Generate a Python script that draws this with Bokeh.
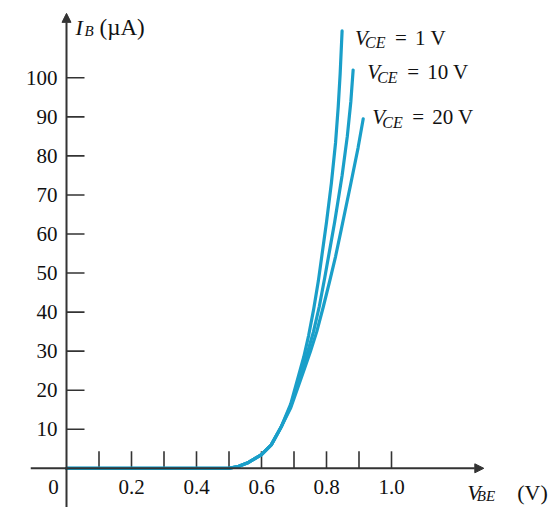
from bokeh.plotting import figure
from bokeh.models import Arrow, NormalHead, Range1d
from bokeh.core.properties import value
from bokeh.embed import file_html
from bokeh.resources import INLINE

# ---------------- data ----------------
vbe_vce1 = [0.0, 0.50, 0.53, 0.56, 0.60, 0.63, 0.66, 0.69, 0.72, 0.73, 0.745, 0.76, 0.775,
            0.80, 0.815, 0.828, 0.836, 0.842, 0.848]
ib_vce1 = [0.0, 0.0, 0.5, 1.5, 3.5, 6.0, 10.5, 16.5, 25.5, 28.5, 34.0, 40.5, 48.0,
           63.0, 73.0, 83.5, 92.5, 101.0, 112.0]

vbe_vce10 = [0.0, 0.50, 0.53, 0.56, 0.60, 0.63, 0.66, 0.69, 0.725, 0.742, 0.76, 0.778, 0.795,
             0.81, 0.825, 0.848, 0.864, 0.875, 0.882]
ib_vce10 = [0.0, 0.0, 0.5, 1.5, 3.5, 6.0, 10.5, 16.0, 25.0, 29.8, 35.0, 41.5, 49.0,
            56.0, 63.0, 75.0, 85.0, 94.0, 102.0]

vbe_vce20 = [0.0, 0.50, 0.53, 0.56, 0.60, 0.63, 0.66, 0.69, 0.73, 0.75, 0.77, 0.79, 0.81,
             0.828, 0.845, 0.875, 0.897, 0.913]
ib_vce20 = [0.0, 0.0, 0.5, 1.5, 3.5, 6.0, 10.5, 15.5, 25.0, 29.8, 35.0, 41.3, 48.0,
            54.3, 61.0, 73.0, 82.0, 89.5]

series_values = ["1 V", "10 V", "20 V"]

x_ticks = [0.1, 0.2, 0.3, 0.4, 0.5, 0.6, 0.7, 0.8, 0.9, 1.0]
x_tick_label_pos = [0.2, 0.4, 0.6, 0.8, 1.0]
x_tick_labels = ["0.2", "0.4", "0.6", "0.8", "1.0"]
y_ticks = [10, 20, 30, 40, 50, 60, 70, 80, 90, 100]
y_tick_labels = ["10", "20", "30", "40", "50", "60", "70", "80", "90", "100"]

# axis extents (data units)
x_axis_end = 1.284
y_axis_end = 116.5

# ---------------- layout / style ----------------
W, H = 556, 507
PX_PER_V = 325.0
PX_PER_UA = 3.905
ORIGIN_X = 66.0     # canvas px of V=0
ORIGIN_Y = 467.8    # canvas px of I=0

x_start = -ORIGIN_X / PX_PER_V
x_end = (W - ORIGIN_X) / PX_PER_V
y_end = ORIGIN_Y / PX_PER_UA
y_start = (ORIGIN_Y - H) / PX_PER_UA

FONT = "Liberation Serif"
TEXT_COLOR = "#111111"
AXIS_COLOR = "#333333"
CURVE_COLOR = "#1a9fc9"

p = figure(width=W, height=H, x_range=Range1d(x_start, x_end), y_range=Range1d(y_start, y_end),
           min_border=0, min_border_left=0, min_border_right=0, min_border_top=0, min_border_bottom=0,
           toolbar_location=None, output_backend="svg", x_axis_type=None, y_axis_type=None)
p.outline_line_color = None
p.background_fill_color = "white"
p.border_fill_color = "white"


def txt(x, y, s, size, italic=False, align="left", baseline="alphabetic", dx=0, dy=0):
    p.text(x=[x], y=[y], text=[s], text_font=value(FONT), text_font_size=value(size),
           text_font_style="italic" if italic else "normal", text_align=align,
           text_baseline=baseline, x_offset=dx, y_offset=dy, text_color=TEXT_COLOR)


# axes with arrows
head_x = NormalHead(size=9, fill_color=AXIS_COLOR, line_color=AXIS_COLOR, line_width=1)
head_y = NormalHead(size=9, fill_color=AXIS_COLOR, line_color=AXIS_COLOR, line_width=1)
p.add_layout(Arrow(end=head_x, x_start=-0.11, y_start=0, x_end=x_axis_end, y_end=0,
                   line_color=AXIS_COLOR, line_width=2))
p.add_layout(Arrow(end=head_y, x_start=0, y_start=y_start, x_end=0, y_end=y_axis_end,
                   line_color=AXIS_COLOR, line_width=2))

# tick marks (inside, pointing into the plot)
x_tick_len = 17 / PX_PER_UA
y_tick_len = 18 / PX_PER_V
p.segment(x0=x_ticks, y0=[0] * len(x_ticks), x1=x_ticks, y1=[x_tick_len] * len(x_ticks),
          line_color=AXIS_COLOR, line_width=1.6)
p.segment(x0=[0] * len(y_ticks), y0=y_ticks, x1=[y_tick_len] * len(y_ticks), y1=y_ticks,
          line_color=AXIS_COLOR, line_width=1.6)

# tick labels
p.text(x=x_tick_label_pos, y=[0] * len(x_tick_label_pos), text=x_tick_labels,
       text_font=value(FONT), text_font_size=value("21px"), text_align="center",
       text_baseline="middle", y_offset=19, text_color=TEXT_COLOR)
p.text(x=[0] * len(y_ticks), y=y_ticks, text=y_tick_labels,
       text_font=value(FONT), text_font_size=value("21px"), text_align="right",
       text_baseline="middle", x_offset=-9, text_color=TEXT_COLOR)
txt(0, 0, "0", "21px", align="center", baseline="middle", dx=-13, dy=19)

# curves
curves = [(vbe_vce1, ib_vce1), (vbe_vce10, ib_vce10), (vbe_vce20, ib_vce20)]
for vx, iy in curves:
    p.line(vx, iy, line_color=CURVE_COLOR, line_width=3.2, line_cap="round", line_join="round")

# curve labels, anchored at each curve's end point
label_dx = [13, 14, 9]
label_dy = [7, 2.5, -1.5]
for (vx, iy), val, dx, dy in zip(curves, series_values, label_dx, label_dy):
    ex, ey = vx[-1], iy[-1]
    txt(ex, ey, "V", "21px", italic=True, dx=dx, dy=dy)
    txt(ex, ey, "CE", "16px", italic=True, dx=dx + 10, dy=dy + 5)
    txt(ex, ey, "=", "21px", dx=dx + 40, dy=dy)
    txt(ex, ey, val, "21px", dx=dx + 60, dy=dy)

# axis titles
txt(0, y_axis_end, "I", "22px", italic=True, dx=9, dy=14)
txt(0, y_axis_end, "B", "15px", italic=True, dx=18, dy=17.5)
txt(0, y_axis_end, "(\u00b5A)", "23px", dx=33, dy=14)

txt(x_axis_end, 0, "V", "22px", italic=True, dx=-16.6, dy=24)
txt(x_axis_end, 0, "BE", "15px", italic=True, dx=-7, dy=27.5)
txt(x_axis_end, 0, "(V)", "22px", dx=33.4, dy=24)

open("out.html", "w").write(file_html(p, INLINE))
